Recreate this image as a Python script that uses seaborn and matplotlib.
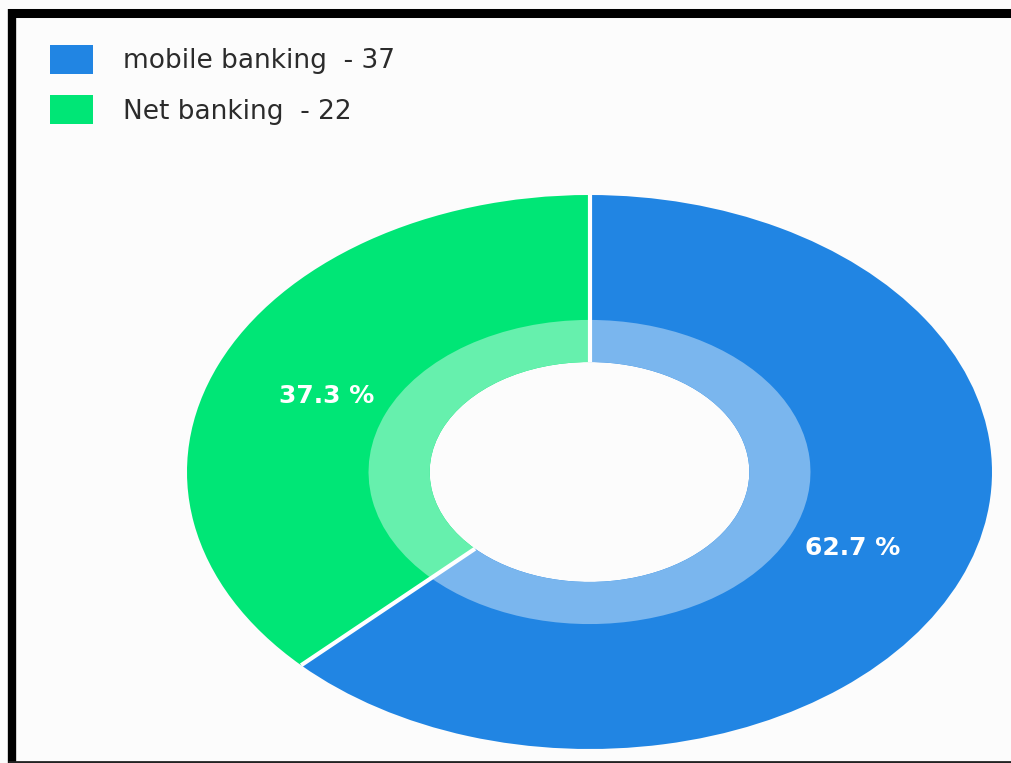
import matplotlib
matplotlib.use("Agg")
import numpy as np
import matplotlib.pyplot as plt
import seaborn as sns
from matplotlib.colors import to_rgb
from matplotlib.patches import Patch
from matplotlib.lines import Line2D

# data
labels = ["mobile banking", "Net banking"]
counts = [37, 22]
colors = ["#2185e3", "#00e676"]

sns.set_theme(style="white")
plt.rcParams["font.family"] = ["DejaVu Sans"]

W, H = 1011, 763
fig = plt.figure(figsize=(W / 100, H / 100), dpi=100, facecolor="#fcfcfc")

# axes stretched horizontally, like the original screenshot
ax = fig.add_axes([187 / W, (H - 749) / H, 805 / W, 554 / H])
ax.set_facecolor("none")

outer_r, mid_r, inner_r = 1.0, 0.549, 0.397

# outer ring with percentages
wedges, texts, autotexts = ax.pie(
    counts, colors=colors, startangle=90, counterclock=False, radius=outer_r,
    autopct="%.1f %%", pctdistance=0.71,
    wedgeprops=dict(width=outer_r - inner_r, linewidth=0),
)
for t in autotexts:
    t.set_color("white")
    t.set_fontsize(18)
    t.set_fontweight("bold")
    t.set_zorder(5)

# lighter inner ring (60% of colour over white)
light = [tuple(1 - 0.6 * (1 - np.array(to_rgb(c)))) for c in colors]
ax.pie(
    counts, colors=light, startangle=90, counterclock=False, radius=mid_r,
    wedgeprops=dict(width=mid_r - inner_r, linewidth=0),
)

# white gaps between the slices
bounds = np.cumsum([0] + counts[:-1]) / sum(counts)
for b in bounds:
    ang = np.deg2rad(90 - 360 * b)
    ax.plot([inner_r * np.cos(ang), outer_r * np.cos(ang)],
            [inner_r * np.sin(ang), outer_r * np.sin(ang)],
            color="white", lw=3, solid_capstyle="butt", zorder=4)

ax.set_aspect("auto")
ax.set_xlim(-1, 1)
ax.set_ylim(-1, 1)
ax.axis("off")

# legend
handles = [Patch(facecolor=c, edgecolor="none") for c in colors]
leg_labels = [f"{l}  - {v}" for l, v in zip(labels, counts)]
fig.legend(
    handles, leg_labels, loc="upper left", bbox_to_anchor=(50 / W, 1 - 45 / H),
    frameon=False, fontsize=19, handlelength=1.63, handleheight=1.3,
    handletextpad=1.14, labelspacing=0.8, borderpad=0, borderaxespad=0,
    labelcolor="#2b2b2b",
)

# black frame of the screenshot
fig.add_artist(Line2D([8 / W, 1.0], [1 - 13 / H, 1 - 13 / H], color="black", lw=6.5,
                      solid_capstyle="butt", transform=fig.transFigure))
fig.add_artist(Line2D([12 / W, 12 / W], [0, 1 - 9 / H], color="black", lw=6,
                      solid_capstyle="butt", transform=fig.transFigure))
fig.add_artist(Line2D([8 / W, 1.0], [1.5 / H, 1.5 / H], color="#222222", lw=2,
                      solid_capstyle="butt", transform=fig.transFigure))

fig.savefig("out.png", dpi=100, facecolor=fig.get_facecolor())
